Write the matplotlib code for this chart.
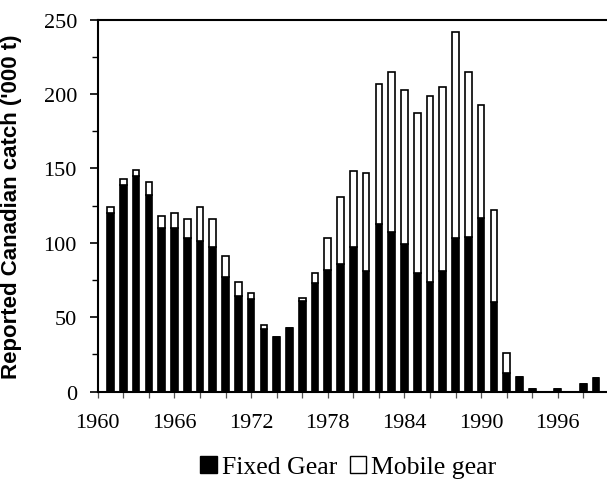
import matplotlib
matplotlib.use("Agg")
import matplotlib.pyplot as plt
from matplotlib.patches import Patch
from matplotlib.ticker import MultipleLocator

years = list(range(1961, 2000))
fixed_gear = [120, 139, 145, 132, 110, 110, 103, 101, 97, 77,
              64, 62, 42, 37, 43, 61, 73, 82, 86, 97,
              81, 113, 107, 99, 80, 74, 81, 103, 104, 117,
              60, 12.5, 10, 2, 0, 1.5, 0, 5, 9]
mobile_gear = [4, 4, 4, 9, 8, 10, 13, 23, 19, 14,
               10, 4, 3, 0, 0, 2, 7, 21, 45, 51,
               66, 94, 108, 104, 107, 125, 124, 139, 111, 76,
               62, 13.5, 0, 0, 0, 0, 0, 0, 0]
x_tick_labels = ["1960", "1966", "1972", "1978", "1984", "1990", "1996"]
y_ticks = [0, 50, 100, 150, 200, 250]

serif = "Liberation Serif"
sans = "Liberation Sans"

fig = plt.figure(figsize=(6.07, 4.81), dpi=100)
ax = fig.add_axes([0.161, 0.1836, 0.839, 0.7734])

w = 0.52
ax.bar(years, fixed_gear, width=w, color="black", edgecolor="black", linewidth=1.2)
ax.bar(years, mobile_gear, width=w, bottom=fixed_gear, color="white",
       edgecolor="black", linewidth=1.2)

ax.set_xlim(1960, 1999.85)
ax.set_ylim(0, 250)

ax.set_xticks([int(t) for t in x_tick_labels])
ax.set_xticklabels(x_tick_labels, fontfamily=serif, fontsize=16)
ax.xaxis.set_minor_locator(MultipleLocator(2))
ax.set_yticks(y_ticks)
ax.set_yticklabels([str(v) for v in y_ticks], fontfamily=serif, fontsize=16)
ax.yaxis.set_minor_locator(MultipleLocator(25))

ax.tick_params(axis="x", which="both", direction="out", length=4, width=0.9,
               color="#555555", pad=11)
ax.tick_params(axis="y", which="major", direction="out", length=6, width=1.2, pad=9)
ax.tick_params(axis="y", which="minor", direction="out", length=4.5, width=1.0)

for s in ["left", "bottom", "top"]:
    ax.spines[s].set_linewidth(1.5)
ax.spines["right"].set_visible(False)

ax.set_ylabel("Reported Canadian catch ('000 t)", fontfamily=sans,
              fontweight="bold", fontsize=16)
ax.yaxis.set_label_coords(-0.149, 0.5)

handles = [Patch(facecolor="black", edgecolor="black", linewidth=1.0, label="Fixed Gear"),
           Patch(facecolor="white", edgecolor="black", linewidth=1.0, label="Mobile gear")]
fig.legend(handles=handles, loc="center", bbox_to_anchor=(0.574, 0.027), ncol=2,
           frameon=False, prop={"family": serif, "size": 18.5},
           handlelength=0.65, handleheight=0.65, handletextpad=0.2,
           columnspacing=0.47, borderpad=0, borderaxespad=0)

fig.savefig("out.png", dpi=100)
